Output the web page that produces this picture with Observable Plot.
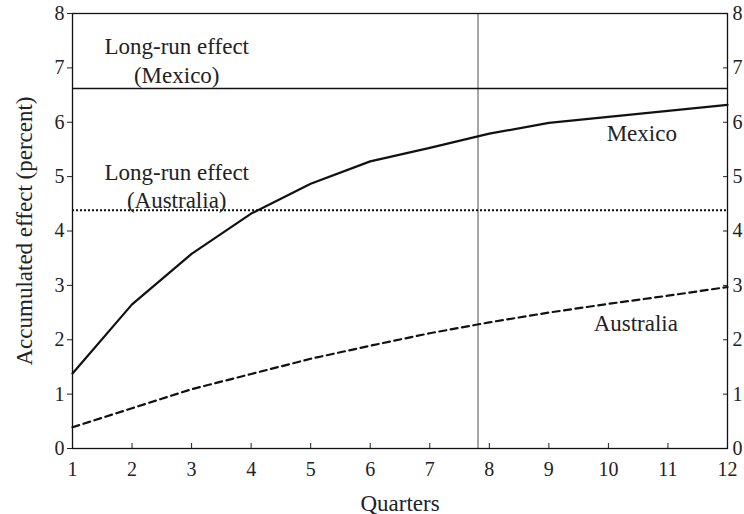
<!DOCTYPE html>
<html><head><meta charset="utf-8">
<script src="https://cdn.jsdelivr.net/npm/d3@7"></script>
<script src="https://cdn.jsdelivr.net/npm/@observablehq/plot@0.6"></script>
<style>body{margin:0;background:#fff}</style>
</head><body><div id="chart"></div>
<script>
const quarters = [1,2,3,4,5,6,7,8,9,10,11,12];
const mexico = [1.38,2.65,3.58,4.32,4.87,5.28,5.53,5.79,5.99,6.10,6.21,6.32];
const australia = [0.39,0.74,1.09,1.37,1.65,1.89,2.12,2.32,2.50,2.66,2.81,2.97];
const longRunMexico = 6.62;
const longRunAustralia = 4.38;
const markerQuarter = 7.81;
const xTicks = [1,2,3,4,5,6,7,8,9,10,11,12];
const yTicks = [0,1,2,3,4,5,6,7,8];
const annotations = [
  {x: 2.75, y: 7.39, text: "Long-run effect"},
  {x: 2.75, y: 6.86, text: "(Mexico)"},
  {x: 2.75, y: 5.08, text: "Long-run effect"},
  {x: 2.75, y: 4.56, text: "(Australia)"},
  {x: 10.56, y: 5.79, text: "Mexico"},
  {x: 10.46, y: 2.30, text: "Australia"}
];
const mx = quarters.map((q,i)=>({q, v: mexico[i]}));
const au = quarters.map((q,i)=>({q, v: australia[i]}));
const font = "'Liberation Serif', 'Times New Roman', serif";
const chart = Plot.plot({
  width: 744, height: 514,
  marginLeft: 72, marginRight: 17, marginTop: 13, marginBottom: 66,
  style: {fontFamily: font, fontSize: "20px", color: "#222", background: "#fff"},
  x: {domain: [1, 12]},
  y: {domain: [0, 8]},
  marks: [
    Plot.axisX({ticks: xTicks, tickSize: -5, tickPadding: 18, tickFormat: d => d, fontSize: 20, label: null}),
    Plot.axisX({ticks: [], tickSize: 0, label: "Quarters", labelAnchor: "center", labelArrow: "none", labelOffset: 62, fontSize: 23}),
    Plot.axisY({anchor: "left", ticks: yTicks, tickSize: 5, tickPadding: 3, tickFormat: d => d, fontSize: 20, label: null}),
    Plot.axisY({anchor: "left", ticks: [], tickSize: 0, label: "Accumulated effect (percent)", labelAnchor: "center", labelArrow: "none", labelOffset: 57, fontSize: 23}),
    Plot.axisY({anchor: "right", ticks: yTicks, tickSize: -5, tickPadding: 10, tickFormat: d => d, fontSize: 20, label: null}),
    Plot.ruleX([markerQuarter], {stroke: "#777", strokeWidth: 1.3}),
    Plot.ruleY([longRunMexico], {stroke: "#111", strokeWidth: 1.5}),
    Plot.ruleY([longRunAustralia], {stroke: "#111", strokeWidth: 2, strokeDasharray: "2,2"}),
    Plot.line(mx, {x: "q", y: "v", stroke: "#111", strokeWidth: 2.2}),
    Plot.line(au, {x: "q", y: "v", stroke: "#111", strokeWidth: 2.2, strokeDasharray: "7,4.5"}),
    Plot.text(annotations, {x: "x", y: "y", text: "text", fontSize: 23, fill: "#222", fontFamily: font}),
    Plot.frame({stroke: "#111", strokeWidth: 1.3})
  ]
});
document.getElementById("chart").append(chart);
</script>
</body></html>
